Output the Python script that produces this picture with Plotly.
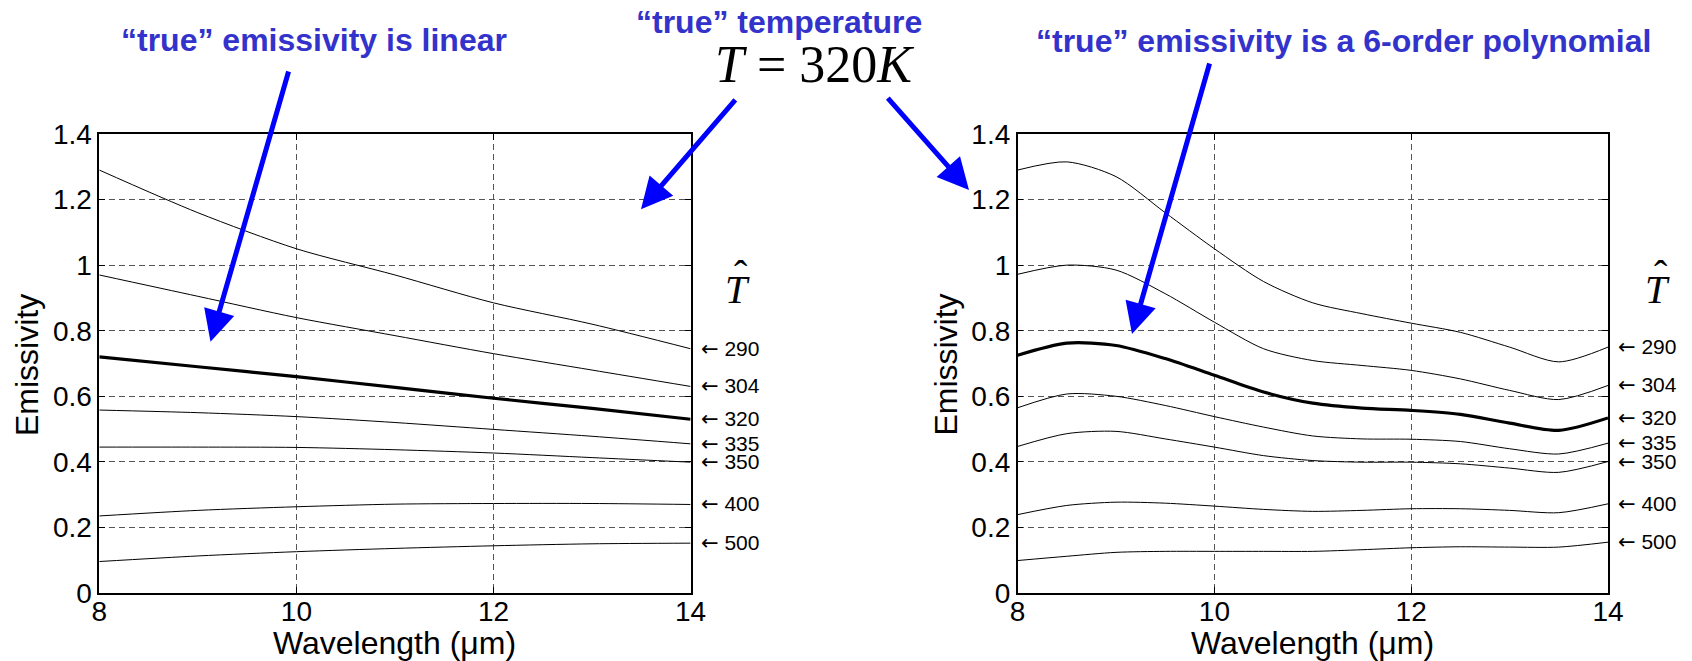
import plotly.graph_objects as go

# ---------------- data ----------------
temps = ["290", "304", "320", "335", "350", "400", "500"]

wl_left = [8, 9, 10, 11, 12, 13, 14]
left_290 = [1.29, 1.16, 1.05, 0.97, 0.885, 0.82, 0.745]
left_304 = [0.97, 0.905, 0.84, 0.785, 0.73, 0.68, 0.63]
left_320 = [0.72, 0.69, 0.66, 0.627, 0.594, 0.563, 0.53]
left_335 = [0.558, 0.55, 0.538, 0.52, 0.499, 0.478, 0.455]
left_350 = [0.445, 0.445, 0.444, 0.437, 0.427, 0.413, 0.399]
left_400 = [0.235, 0.252, 0.263, 0.271, 0.273, 0.273, 0.27]
left_500 = [0.096, 0.113, 0.126, 0.136, 0.144, 0.150, 0.152]

wl_right = [8, 8.5, 9, 9.5, 10, 10.5, 11, 11.5, 12, 12.5, 13, 13.5, 14]
right_290 = [1.29, 1.315, 1.27, 1.16, 1.05, 0.95, 0.885, 0.852, 0.823, 0.795, 0.75, 0.705, 0.75]
right_304 = [0.972, 1.0, 0.985, 0.913, 0.826, 0.745, 0.709, 0.694, 0.679, 0.653, 0.618, 0.59, 0.633]
right_320 = [0.725, 0.762, 0.755, 0.715, 0.664, 0.613, 0.579, 0.564, 0.557, 0.545, 0.518, 0.496, 0.534]
right_335 = [0.565, 0.607, 0.60, 0.572, 0.538, 0.506, 0.479, 0.470, 0.469, 0.462, 0.44, 0.424, 0.457]
right_350 = [0.447, 0.486, 0.493, 0.470, 0.445, 0.419, 0.404, 0.399, 0.399, 0.394, 0.381, 0.368, 0.401]
right_400 = [0.239, 0.267, 0.277, 0.274, 0.265, 0.255, 0.249, 0.252, 0.257, 0.257, 0.252, 0.245, 0.272]
right_500 = [0.099, 0.112, 0.124, 0.127, 0.127, 0.127, 0.127, 0.132, 0.138, 0.141, 0.140, 0.140, 0.155]

left_series = [left_290, left_304, left_320, left_335, left_350, left_400, left_500]
right_series = [right_290, right_304, right_320, right_335, right_350, right_400, right_500]

x_ticks = [8, 10, 12, 14]
y_ticks = [0, 0.2, 0.4, 0.6, 0.8, 1, 1.2, 1.4]
y_ticklabels = ["0", "0.2", "0.4", "0.6", "0.8", "1", "1.2", "1.4"]

# ---------------- figure ----------------
W, H = 1692, 661
fig = go.Figure()

def px(x):
    return x / W

def py(y):
    return 1 - y / H

for xs, series, xa, ya in [(wl_left, left_series, "x", "y"), (wl_right, right_series, "x2", "y2")]:
    for t, vals in zip(temps, series):
        fig.add_trace(go.Scatter(
            x=xs, y=vals, mode="lines", xaxis=xa, yaxis=ya,
            line=dict(color="black", width=3.2 if t == "320" else 1, shape="spline", smoothing=0.8),
            showlegend=False, hoverinfo="skip"))

tickfont = dict(family="Liberation Sans, Arial, sans-serif", size=28, color="black")
axis_common = dict(
    showline=True, linecolor="black", linewidth=1.5, mirror="allticks",
    ticks="inside", ticklen=6, tickcolor="black", tickwidth=1,
    showgrid=True, gridcolor="#555555", gridwidth=1, griddash="6px,4px",
    zeroline=False, tickfont=tickfont, automargin=False,
)

x_dom_left = [px(99.3), px(690.6)]
x_dom_right = [px(1017.6), px(1608.0)]
y_dom = [py(593.0), py(134.0)]

fig.update_layout(
    width=W, height=H, margin=dict(l=0, r=0, t=0, b=0, pad=0, autoexpand=False),
    paper_bgcolor="white", plot_bgcolor="white",
    xaxis=dict(domain=x_dom_left, range=[8, 14], tickvals=x_ticks, anchor="y",
               ticklabelstandoff=-7, **axis_common),
    yaxis=dict(domain=y_dom, range=[0, 1.4], tickvals=y_ticks, ticktext=y_ticklabels, anchor="x", **axis_common),
    xaxis2=dict(domain=x_dom_right, range=[8, 14], tickvals=x_ticks, anchor="y2",
                ticklabelstandoff=-7, **axis_common),
    yaxis2=dict(domain=y_dom, range=[0, 1.4], tickvals=y_ticks, ticktext=y_ticklabels, anchor="x2", **axis_common),
)

ann = []
label_font = dict(family="Liberation Sans, Arial, DejaVu Sans, sans-serif", size=21, color="black")
arrow_span = "<span style='font-family:DejaVu Sans'>\u2190</span> "
for xr, yr, series in [("x domain", "y", left_series), ("x2 domain", "y2", right_series)]:
    for t, vals in zip(temps, series):
        ann.append(dict(x=1, y=vals[-1], xref=xr, yref=yr, xanchor="left", yanchor="middle",
                        xshift=8, text=arrow_span + t, showarrow=False, font=label_font))

def paper_text(cx, cy, text, font, **kw):
    d = dict(x=px(cx), y=py(cy), xref="paper", yref="paper", text=text, showarrow=False,
             font=font, xanchor="center", yanchor="middle")
    d.update(kw)
    return d

title_font = dict(family="Liberation Sans, Arial, sans-serif", size=32, color="black")
for cx, ex in [(394.5, 27), (1312.8, 945.6)]:
    ann.append(paper_text(cx, 643, "Wavelength (\u03bcm)", title_font))
    ann.append(paper_text(ex, 365, "Emissivity", title_font, textangle=-90))

# T-hat labels
serif = "Liberation Serif, Times New Roman, serif"
for cx in [737, 1657]:
    ann.append(paper_text(cx, 289, "<i>T</i>", dict(family=serif, size=40, color="black")))
    ann.append(paper_text(cx + 4, 274, "\u02c6", dict(family=serif, size=40, color="black")))

blue_font = dict(family="Liberation Sans, Arial, sans-serif", size=32, color="#3333CC")
ann.append(paper_text(314, 40, "<b>\u201ctrue\u201d emissivity is linear</b>", blue_font))
ann.append(paper_text(779, 22, "<b>\u201ctrue\u201d temperature</b>", blue_font))
ann.append(paper_text(1343, 41, "<b>\u201ctrue\u201d emissivity is a 6-order polynomial</b>", blue_font))
ann.append(paper_text(814, 64, "<i>T</i> = 320<i>K</i>", dict(family=serif, size=52, color="black")))

# blue arrows: (tail_x, tail_y, tip_x, tip_y) in pixels
arrows = [(289, 70, 210.5, 341.7), (736.6, 98.3, 641, 209.3),
          (886.5, 96.7, 969, 190), (1210, 62, 1132, 334)]
for tx, ty, hx, hy in arrows:
    ann.append(dict(x=px(hx), y=py(hy), xref="paper", yref="paper", text="",
                    showarrow=True, arrowhead=2, arrowsize=1.25, arrowwidth=5,
                    arrowcolor="#0000FF", ax=tx - hx, ay=ty - hy, standoff=0))

fig.update_layout(annotations=ann)
fig.write_html("out.html")
